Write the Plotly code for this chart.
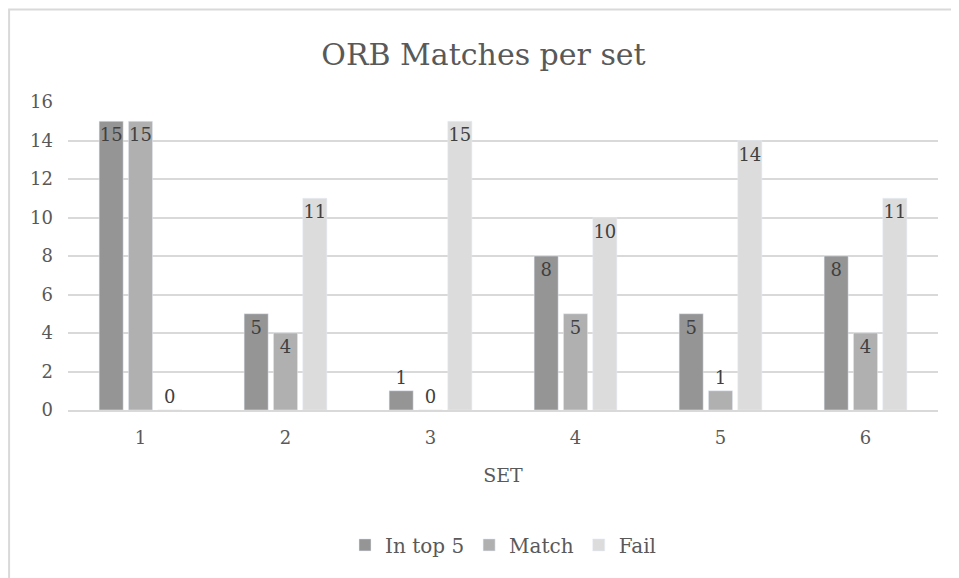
import plotly.graph_objects as go

sets = ["1", "2", "3", "4", "5", "6"]
in_top5 = [15, 5, 1, 8, 5, 8]
match = [15, 4, 0, 5, 1, 4]
fail = [0, 11, 15, 10, 14, 11]

series = [("In top 5", in_top5, "#959595"), ("Match", match, "#b0b0b0"), ("Fail", fail, "#dcdcdc")]

FONT = "DejaVu Serif"
TXT = "#595959"

fig = go.Figure()
for name, vals, col in series:
    fig.add_trace(go.Bar(
        x=sets, y=vals, name=name, marker_color=col,
        text=[str(v) for v in vals],
        textposition=["outside" if v <= 1 else "inside" for v in vals],
        insidetextanchor="end",
        constraintext="none",
        textangle=0,
        cliponaxis=False,
        textfont=dict(family=FONT, size=18, color="#404040"),
    ))

fig.update_layout(
    width=951, height=570,
    margin=dict(l=60, r=21, t=94, b=168),
    paper_bgcolor="white", plot_bgcolor="white",
    font=dict(family=FONT, color=TXT),
    title=dict(text="ORB Matches per set", x=0.5, xanchor="center", y=0.919, yanchor="middle",
               font=dict(family=FONT, size=30, color=TXT)),
    barmode="group", bargap=0.393, bargroupgap=0.18,
    showlegend=True,
    legend=dict(orientation="h", x=0.5, xanchor="center", y=-0.438, yanchor="middle",
                font=dict(family=FONT, size=20, color=TXT), traceorder="normal",
                itemwidth=30),
    xaxis=dict(title=dict(text="SET", font=dict(family=FONT, size=19, color=TXT), standoff=22),
               tickfont=dict(family=FONT, size=18, color=TXT), ticklabelstandoff=10,
               showline=True, linecolor="#d9d9d9", linewidth=2, showgrid=False, ticks=""),
    yaxis=dict(range=[0, 16], dtick=2, tickfont=dict(family=FONT, size=18, color=TXT),
               showgrid=True, gridcolor="#d9d9d9", gridwidth=2, zeroline=False,
               ticks="", ticklabelstandoff=14),
    shapes=[dict(type="rect", xref="paper", yref="paper", x0=-0.0677, x1=1.05, y0=-0.6, y1=1.3,
                 line=dict(color="#d9d9d9", width=2), fillcolor="rgba(0,0,0,0)", layer="below")],
)

fig.write_html("out.html")
